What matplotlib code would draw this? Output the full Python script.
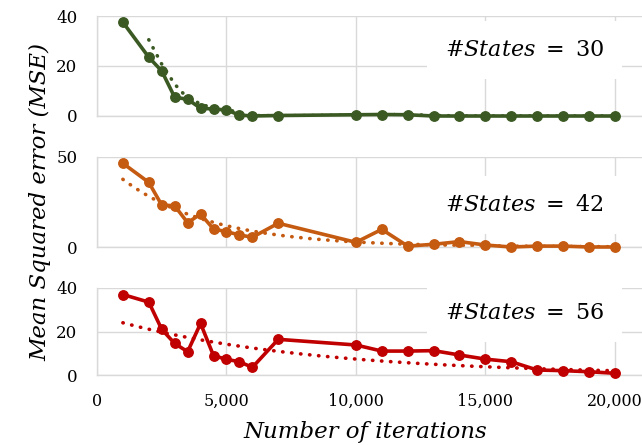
import numpy as np
import matplotlib.pyplot as plt

plt.rcParams["mathtext.fontset"] = "dejavuserif"

# ---------------- data ----------------
iters = [1000, 2000, 2500, 3000, 3500, 4000, 4500, 5000, 5500, 6000, 7000,
         10000, 11000, 12000, 13000, 14000, 15000, 16000, 17000, 18000, 19000, 20000]

mse_30 = [37.5, 23.5, 18.0, 7.5, 6.7, 3.1, 2.8, 2.4, 0.4, 0.0, 0.2,
          0.5, 0.6, 0.5, 0.0, 0.0, 0.0, 0.0, 0.0, 0.0, 0.0, 0.0]
mse_42 = [46.5, 35.9, 23.3, 22.9, 13.5, 18.3, 10.0, 8.5, 6.7, 5.4, 13.2,
          2.6, 9.8, 0.5, 1.5, 3.0, 1.1, 0.0, 0.5, 0.5, 0.0, 0.0]
mse_56 = [37.0, 33.5, 21.0, 14.5, 10.7, 23.7, 8.9, 7.2, 6.1, 3.5, 16.4,
          13.8, 11.0, 11.0, 11.2, 9.2, 7.3, 6.1, 2.3, 2.0, 1.5, 0.8]

# exponential trend lines (a * exp(-c * x))
trend_42 = (50.2, 0.000289)
trend_56 = (27.4, 0.000132)

labels = ["30", "42", "56"]
colors = ["#3b5a23", "#c55a11", "#c00000"]
yticks = [[0, 20, 40], [0, 50], [0, 20, 40]]
xticks = [0, 5000, 10000, 15000, 20000]
xticklabels = ["0", "5,000", "10,000", "15,000", "20,000"]

W, H = 642, 445
fig = plt.figure(figsize=(W / 100, H / 100), dpi=100)

# panel boxes in pixels (top, bottom)
boxes = [(16, 116), (157, 247), (288, 375)]
left_px = 97
text_y = [0.66, 0.467, 0.71]

x = np.array(iters)
series = [mse_30, mse_42, mse_56]

for i in range(3):
    top, bot = boxes[i]
    ax = fig.add_axes([left_px / W, 1 - bot / H, 1 - left_px / W, (bot - top) / H])
    y = np.array(series[i])
    c = colors[i]

    # trend line
    if i == 0:
        xt = x[1:]
        yt = (y[1:] + y[:-1]) / 2  # 2-period moving average
    else:
        a, k = trend_42 if i == 1 else trend_56
        xt = np.linspace(iters[0], iters[-1], 200)
        yt = a * np.exp(-k * xt)
    ax.plot(xt, yt, color=c, lw=2.6, linestyle=(0, (0.1, 2.4)),
            dash_capstyle="round", zorder=2)

    ax.plot(x, y, color=c, lw=2.6, marker="o", markersize=6.8, zorder=3,
            clip_on=False)

    ax.set_xlim(0, 21050)
    ax.set_ylim(yticks[i][0], yticks[i][-1])
    ax.set_yticks(yticks[i])
    ax.set_xticks(xticks)
    ax.grid(True, color="#d9d9d9", lw=1)
    ax.set_axisbelow(True)
    for s in ["top", "right"]:
        ax.spines[s].set_visible(False)
    for s in ["left", "bottom"]:
        ax.spines[s].set_color("#d9d9d9")
        ax.spines[s].set_linewidth(1)
    ax.tick_params(axis="y", length=0, pad=14, labelsize=12)
    ax.tick_params(axis="x", length=0, pad=13, labelsize=11.5)
    for lab in ax.get_yticklabels():
        lab.set_family("DejaVu Serif")
    if i < 2:
        ax.set_xticklabels([])
    else:
        ax.set_xticklabels(xticklabels, family="DejaVu Serif")

    ax.text(0.785, text_y[i], r"#$States\ =\ %s$" % labels[i], transform=ax.transAxes,
            ha="center", va="center", fontsize=16, family="DejaVu Serif",
            bbox=dict(boxstyle="square,pad=0.8", fc="white", ec="none"), zorder=4)

fig.text(365 / W, 1 - 432 / H, "Number of iterations", ha="center", va="center",
         fontsize=16.5, family="DejaVu Serif", style="italic")
fig.text(40 / W, 1 - 202 / H, "Mean Squared error (MSE)", ha="center", va="center",
         rotation=90, fontsize=16.5, family="DejaVu Serif", style="italic")

fig.savefig("out.png", dpi=100)
